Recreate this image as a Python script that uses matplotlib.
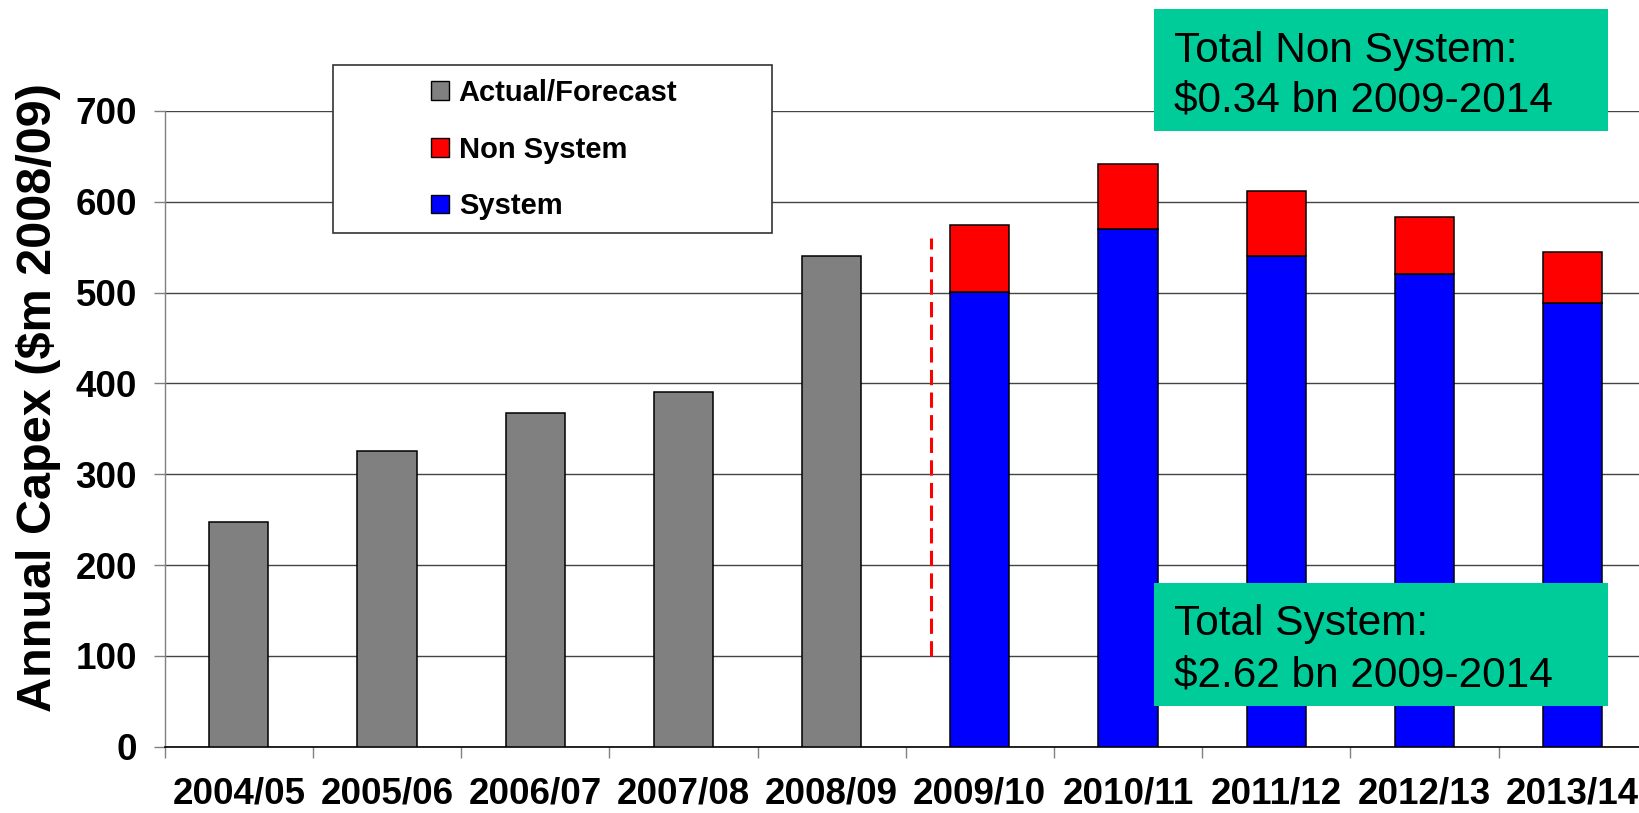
import numpy as np
import matplotlib
matplotlib.use('Agg')
import matplotlib.pyplot as plt
from matplotlib.patches import Patch, Rectangle

# Annual capex, $m 2008/09
years = ['2004/05', '2005/06', '2006/07', '2007/08', '2008/09',
         '2009/10', '2010/11', '2011/12', '2012/13', '2013/14']
actual = [247, 326, 367, 391, 540]
system = [501, 570, 540, 521, 489]
non_system = [74, 72, 72, 62, 56]

# dashed divider between actuals and the regulatory period
divider_x = 4.67
divider_span = (100, 560)

W, H = 1639, 813
FONT = 'Liberation Sans'
GRAY = '#808080'
RED = '#FF0000'
BLUE = '#0000FF'
GREEN = '#00CC99'


def fx(px):
    return px / W


def fy(py):
    return 1 - py / H


fig = plt.figure(figsize=(W / 100, H / 100), dpi=100)
ax = fig.add_axes([fx(164.7), 66.3 / H, 1482 / W, 635.7 / H])

x = np.arange(len(years))
n_act = len(actual)
bar_w = 0.4
edge = dict(edgecolor='black', linewidth=1.1, zorder=3)

ax.bar(x[:n_act], actual, width=bar_w, color=GRAY, **edge)
ax.bar(x[n_act:], system, width=bar_w, color=BLUE, **edge)
ax.bar(x[n_act:], non_system, width=bar_w, bottom=system, color=RED, **edge)

ax.plot([divider_x, divider_x], divider_span, color=RED, lw=2.2,
        linestyle=(0, (5, 2.4)), zorder=4)

ax.set_xlim(-0.5, len(years) - 0.5)
ax.set_ylim(0, 700)
ax.set_yticks(np.arange(0, 701, 100))
ax.yaxis.grid(True, color='#444444', linewidth=1.0, zorder=0)
ax.set_axisbelow(True)

for side in ('top', 'right'):
    ax.spines[side].set_visible(False)
ax.spines['left'].set_color(GRAY)
ax.spines['left'].set_linewidth(1.0)
ax.spines['bottom'].set_color('black')
ax.spines['bottom'].set_linewidth(1.2)

# category labels at bar centres, tick marks on category boundaries
ax.set_xticks(x)
ax.set_xticklabels(years)
ax.set_xticks(np.arange(-0.5, len(years) - 0.5, 1.0), minor=True)
ax.tick_params(axis='x', which='major', length=0, pad=21.5)
ax.tick_params(axis='x', which='minor', length=8, width=1.0, color=GRAY)
ax.tick_params(axis='y', length=8, width=1.0, color=GRAY, pad=12)

for lab in ax.get_xticklabels() + ax.get_yticklabels():
    lab.set_fontfamily(FONT)
    lab.set_fontweight('bold')
    lab.set_fontsize(26.5)

ax.set_ylabel('Annual Capex ($m 2008/09)', fontfamily=FONT, fontweight='bold',
              fontsize=35)
ax.yaxis.set_label_coords(-0.07, 0.55)

# legend frame is wider than its content, so draw it separately
fig.add_artist(Rectangle((fx(333), fy(233)), fx(772) - fx(333), fy(65) - fy(233),
                         transform=fig.transFigure, facecolor='white',
                         edgecolor='#333333', linewidth=1.2, zorder=1))
handles = [Patch(facecolor=GRAY, edgecolor='black', linewidth=1.0),
           Patch(facecolor=RED, edgecolor='black', linewidth=1.0),
           Patch(facecolor=BLUE, edgecolor='black', linewidth=1.0)]
fig.legend(handles, ['Actual/Forecast', 'Non System', 'System'],
           loc='upper left', bbox_to_anchor=(fx(431), fy(79)),
           frameon=False, borderpad=0, borderaxespad=0,
           handlelength=0.6, handleheight=0.6, handletextpad=0.35,
           labelspacing=0.98,
           prop=dict(family=FONT, weight='bold', size=21))

# total boxes
total_sys = sum(system) / 1000
total_non = sum(non_system) / 1000
boxes = [
    (9, 131, ['Total Non System:', f'${total_non:.2f} bn 2009-2014'], (61.7, 111.7)),
    (583, 706, ['Total System:', f'${total_sys:.2f} bn 2009-2014'], (635, 686)),
]
for top, bottom, lines, baselines in boxes:
    fig.add_artist(Rectangle((fx(1154), fy(bottom)), fx(1608) - fx(1154),
                             fy(top) - fy(bottom), transform=fig.transFigure,
                             facecolor=GREEN, edgecolor='none', zorder=1))
    for text, base in zip(lines, baselines):
        fig.text(fx(1174), fy(base), text, ha='left', va='baseline',
                 fontfamily=FONT, fontsize=30.5, color='black', zorder=3)

fig.savefig('out.png', dpi=100)
plt.close(fig)
